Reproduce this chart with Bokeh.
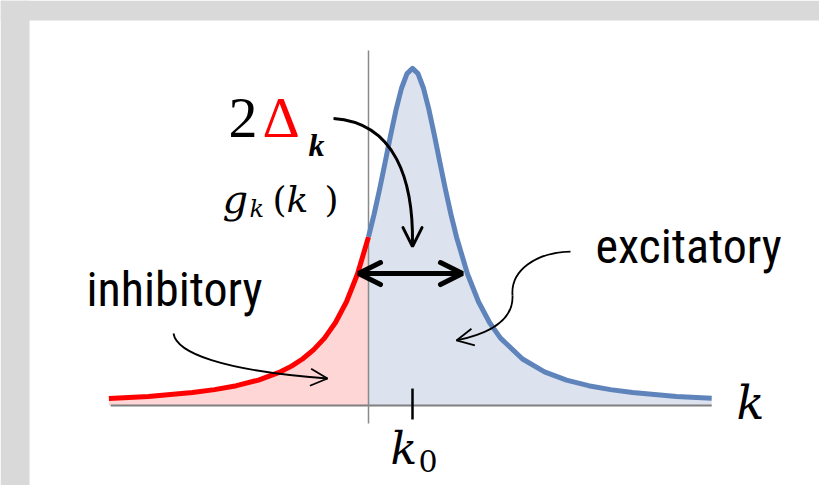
from bokeh.plotting import figure
from bokeh.models import Range1d, Label, Arrow, OpenHead, BoxAnnotation
from bokeh.embed import file_html
from bokeh.resources import INLINE

# Lorentzian density g_k(k), centred at k0 with half-width Delta (k in units of Delta)
k_vals = [-5.9, -5.0, -4.0, -3.5, -3.0, -2.5, -2.0, -1.75, -1.5, -1.25, -1.0, -0.75,
          -0.5, -0.25, 0.0, 0.125, 0.25, 0.375, 0.5, 0.625, 0.75, 0.875, 1.0,
          1.125, 1.25, 1.375, 1.5, 1.625, 1.75, 1.875, 2.0, 2.25, 2.5, 2.75, 3.0,
          3.5, 4.0, 4.5, 5.0, 5.5, 6.0, 7.0, 7.8]
g_vals = [0.00655, 0.00860, 0.01224, 0.01498, 0.01872, 0.02402, 0.03183, 0.03717,
          0.04390, 0.05250, 0.06366, 0.07835, 0.09794, 0.12421, 0.15915, 0.18027,
          0.20371, 0.22889, 0.25464, 0.27909, 0.29958, 0.31341, 0.31830, 0.31341,
          0.29958, 0.27909, 0.25464, 0.22889, 0.20371, 0.18027, 0.15915, 0.12421,
          0.09794, 0.07835, 0.06366, 0.04390, 0.03183, 0.02402, 0.01872, 0.01498,
          0.01224, 0.00860, 0.00674]
k0 = 1.0
width_arrow = [-0.227, 2.136]   # ends of the 2*Delta_k arrow
width_arrow_g = 0.1246

inh_k = [k for k in k_vals if k <= 0]
inh_g = [g for k, g in zip(k_vals, g_vals) if k <= 0]
exc_k = [k for k in k_vals if k >= 0]
exc_g = [g for k, g in zip(k_vals, g_vals) if k >= 0]

RED = "#ff0000"
RED_FILL = "#ffd6d6"
BLUE = "#5f84bb"
BLUE_FILL = "#dde3ee"
AXIS = "#8a8a8a"
FRAME_GRAY = "#d9d9d9"

# white drawing panel inside a grey frame (top and left edges)
panel_left, panel_top = -7.7045, 0.36355

p = figure(width=819, height=485, output_backend="svg", toolbar_location=None,
           x_range=Range1d(-8.3636, 10.25), y_range=Range1d(-0.07554, 0.38244),
           x_axis_type=None, y_axis_type=None, min_border=0,
           min_border_left=0, min_border_top=0, min_border_right=0, min_border_bottom=0)
p.border_fill_color = "white"
p.background_fill_color = "white"
p.outline_line_color = None

p.add_layout(BoxAnnotation(right=panel_left, fill_color=FRAME_GRAY, fill_alpha=1,
                           line_color=None, level="underlay"))
p.add_layout(BoxAnnotation(bottom=panel_top, fill_color=FRAME_GRAY, fill_alpha=1,
                           line_color=None, level="underlay"))

# shaded areas under the curve
p.varea(x=inh_k, y1=0, y2=inh_g, fill_color=RED_FILL)
p.varea(x=exc_k, y1=0, y2=exc_g, fill_color=BLUE_FILL)

# k axis and vertical axis
p.line(x=[k_vals[0] + 0.04, k_vals[-1]], y=[0, 0], line_color="#7f7f7f", line_width=2)
p.line(x=[0, 0], y=[-0.017, 0.3352], line_color=AXIS, line_width=1.5)
# k0 tick
p.line(x=[k0, k0], y=[-0.0132, 0.016], line_color="black", line_width=2.5)

# the curve itself
p.line(x=inh_k, y=inh_g, line_color=RED, line_width=5, line_join="round")
p.line(x=exc_k, y=exc_g, line_color=BLUE, line_width=5, line_join="round")

# 2*Delta_k width arrow
p.add_layout(Arrow(x_start=width_arrow[0], y_start=width_arrow_g,
                   x_end=width_arrow[1], y_end=width_arrow_g,
                   line_width=5, line_color="black",
                   start=OpenHead(size=22, line_width=5, line_cap="round"),
                   end=OpenHead(size=22, line_width=5, line_cap="round")))

# curved pointer from the 2Delta label down to the peak
p.bezier(x0=[-0.795], y0=[0.271], x1=[1.0], y1=[0.152],
         cx0=[0.614], cy0=[0.267], cx1=[1.023], cy1=[0.2125],
         line_color="black", line_width=3)
p.add_layout(Arrow(x_start=1.0, y_start=0.17, x_end=1.0, y_end=0.150, line_alpha=0,
                   end=OpenHead(size=19, line_width=3, line_cap="round")))

# pointer from "excitatory"
p.bezier(x0=[4.591, 3.273], y0=[0.1454, 0.1039], x1=[3.273, 2.0], y1=[0.1039, 0.0614],
         cx0=[3.795, 3.295], cy0=[0.1445, 0.0803], cx1=[3.227, 2.773], cy1=[0.1275, 0.068],
         line_color="black", line_width=1.8)
p.add_layout(Arrow(x_start=2.6, y_start=0.0665, x_end=2.0, y_end=0.0614, line_alpha=0,
                   end=OpenHead(size=17, line_width=1.8)))

# pointer from "inhibitory"
p.bezier(x0=[-4.432], y0=[0.068], x1=[-0.932], y1=[0.0255],
         cx0=[-4.364], cy0=[0.05], cx1=[-3.364], cy1=[0.033],
         line_color="black", line_width=1.8)
p.add_layout(Arrow(x_start=-1.6, y_start=0.0275, x_end=-0.932, y_end=0.0255, line_alpha=0,
                   end=OpenHead(size=17, line_width=1.8)))


def lab(x, y, text, font, size, style="normal", color="black"):
    # lift the anchor so the glyph baseline sits on y
    p.add_layout(Label(x=x, y=y, y_offset=round(0.36 * size), text=text, text_font=font,
                       text_font_size=f"{size}px", text_font_style=style,
                       text_color=color, text_baseline="alphabetic", text_align="left"))


COND = "Roboto Condensed"
MATH = "DejaVu Serif"
TIMES = "Liberation Serif"

lab(-6.409, 0.0935, "inhibitory", COND, 48)
lab(5.159, 0.1341, "excitatory", COND, 48)

lab(-3.182, 0.2521, "2", TIMES, 58)
lab(-2.409, 0.2521, "\u0394", TIMES, 58, color=RED)
lab(-1.364, 0.2351, "k", TIMES, 32, style="bold italic")

lab(-3.318, 0.1822, "g", MATH, 40, style="italic")
lab(-2.705, 0.1775, "k", MATH, 24, style="italic")
lab(-2.182, 0.1822, "(", MATH, 36)
lab(-1.864, 0.1822, "k", MATH, 36, style="italic")
lab(-1.0, 0.1822, ")", MATH, 36)

lab(8.364, -0.01416, "k", MATH, 46, style="italic")
lab(0.5, -0.0555, "k", MATH, 44, style="italic")
lab(1.136, -0.0625, "0", MATH, 30)

open("out.html", "w").write(file_html(p, INLINE))
